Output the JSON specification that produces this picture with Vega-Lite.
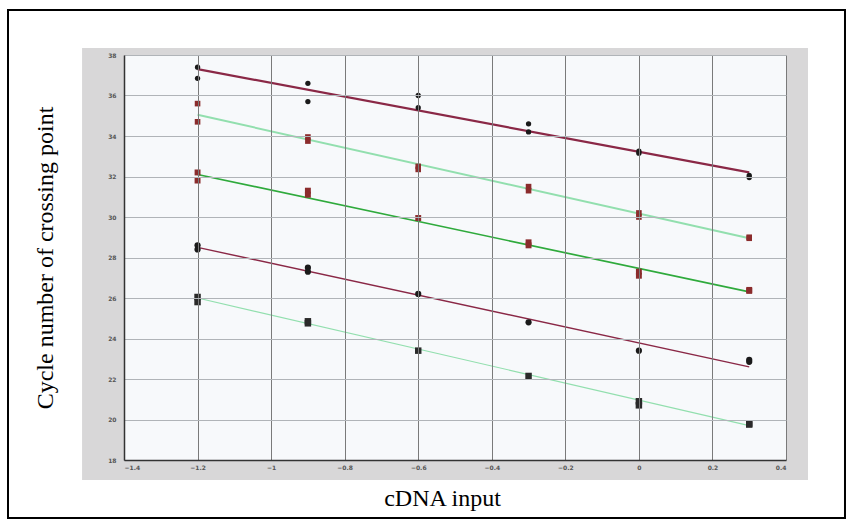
{
  "$schema": "https://vega.github.io/schema/vega-lite/v6.json",
  "width": 662,
  "height": 405,
  "autosize": {"type": "none"},
  "padding": {"left": 124, "top": 55, "right": 68, "bottom": 66},
  "background": "white",
  "config": {
    "view": {"stroke": null},
    "axis": {
      "labelFont": "DejaVu Sans",
      "labelFontSize": 6,
      "labelFontWeight": "bold",
      "labelColor": "#555555",
      "ticks": false,
      "domainColor": "#333333",
      "domainWidth": 1.5,
      "titleFont": "Liberation Serif",
      "titleFontSize": 24,
      "titleFontWeight": "normal",
      "titleColor": "#000000",
      "grid": true
    },
    "axisX": {"gridColor": "#7a7a7a", "gridWidth": 1, "labelPadding": 4, "titlePadding": 16},
    "axisY": {"gridColor": "#b0b4b8", "gridWidth": 1, "labelPadding": 8, "titlePadding": 50}
  },
  "datasets": {
    "points": [
      {"x": -1.2, "ct": 37.4, "series": "S1"}, {"x": -1.2, "ct": 36.85, "series": "S1"},
      {"x": -0.9, "ct": 36.6, "series": "S1"}, {"x": -0.9, "ct": 35.7, "series": "S1"},
      {"x": -0.6, "ct": 36.0, "series": "S1"}, {"x": -0.6, "ct": 35.4, "series": "S1"},
      {"x": -0.3, "ct": 34.6, "series": "S1"}, {"x": -0.3, "ct": 34.2, "series": "S1"},
      {"x": 0, "ct": 33.25, "series": "S1"}, {"x": 0, "ct": 33.15, "series": "S1"},
      {"x": 0.3, "ct": 32.05, "series": "S1"}, {"x": 0.3, "ct": 31.95, "series": "S1"},
      {"x": -1.2, "ct": 35.6, "series": "S2"}, {"x": -1.2, "ct": 34.7, "series": "S2"},
      {"x": -0.9, "ct": 33.95, "series": "S2"}, {"x": -0.9, "ct": 33.75, "series": "S2"},
      {"x": -0.6, "ct": 32.5, "series": "S2"}, {"x": -0.6, "ct": 32.35, "series": "S2"},
      {"x": -0.3, "ct": 31.5, "series": "S2"}, {"x": -0.3, "ct": 31.3, "series": "S2"},
      {"x": 0, "ct": 30.2, "series": "S2"}, {"x": 0, "ct": 30.0, "series": "S2"},
      {"x": 0.3, "ct": 29.0, "series": "S2"}, {"x": 0.3, "ct": 28.95, "series": "S2"},
      {"x": -1.2, "ct": 32.2, "series": "S3"}, {"x": -1.2, "ct": 31.8, "series": "S3"},
      {"x": -0.9, "ct": 31.3, "series": "S3"}, {"x": -0.9, "ct": 31.1, "series": "S3"},
      {"x": -0.6, "ct": 29.95, "series": "S3"},
      {"x": -0.3, "ct": 28.75, "series": "S3"}, {"x": -0.3, "ct": 28.6, "series": "S3"},
      {"x": 0, "ct": 27.3, "series": "S3"}, {"x": 0, "ct": 27.1, "series": "S3"},
      {"x": 0.3, "ct": 26.4, "series": "S3"}, {"x": 0.3, "ct": 26.35, "series": "S3"},
      {"x": -1.2, "ct": 28.6, "series": "S4"}, {"x": -1.2, "ct": 28.4, "series": "S4"},
      {"x": -0.9, "ct": 27.5, "series": "S4"}, {"x": -0.9, "ct": 27.3, "series": "S4"},
      {"x": -0.6, "ct": 26.2, "series": "S4"},
      {"x": -0.3, "ct": 24.8, "series": "S4"},
      {"x": 0, "ct": 23.4, "series": "S4"},
      {"x": 0.3, "ct": 22.95, "series": "S4"}, {"x": 0.3, "ct": 22.85, "series": "S4"},
      {"x": -1.2, "ct": 26.05, "series": "S5"}, {"x": -1.2, "ct": 25.8, "series": "S5"},
      {"x": -0.9, "ct": 24.85, "series": "S5"}, {"x": -0.9, "ct": 24.75, "series": "S5"},
      {"x": -0.6, "ct": 23.4, "series": "S5"},
      {"x": -0.3, "ct": 22.15, "series": "S5"},
      {"x": 0, "ct": 20.9, "series": "S5"}, {"x": 0, "ct": 20.7, "series": "S5"},
      {"x": 0.3, "ct": 19.8, "series": "S5"}, {"x": 0.3, "ct": 19.75, "series": "S5"}
    ],
    "lines": [
      {"x": -1.2, "ct": 37.3, "line": "L1"}, {"x": 0.3, "ct": 32.2, "line": "L1"},
      {"x": -1.2, "ct": 35.05, "line": "L2"}, {"x": 0.3, "ct": 28.95, "line": "L2"},
      {"x": -1.2, "ct": 32.1, "line": "L3"}, {"x": 0.3, "ct": 26.3, "line": "L3"},
      {"x": -1.2, "ct": 28.5, "line": "L4"}, {"x": 0.3, "ct": 22.6, "line": "L4"},
      {"x": -1.2, "ct": 26.0, "line": "L5"}, {"x": 0.3, "ct": 19.7, "line": "L5"}
    ]
  },
  "data": {"values": [{}]},
  "layer": [
    {
      "mark": {"type": "rect", "fill": "white", "stroke": "black", "strokeWidth": 2},
      "encoding": {
        "x": {"datum": -1.7154, "type": "quantitative", "scale": {"domain": [-1.4, 0.4], "nice": false, "zero": false}},
        "x2": {"datum": 0.5604},
        "y": {"datum": 40.222, "type": "quantitative", "scale": {"domain": [18, 38], "nice": false, "zero": false}},
        "y2": {"datum": 15.136}
      }
    },
    {
      "mark": {"type": "rect", "fill": "#d8d7d8"},
      "encoding": {
        "x": {"datum": -1.514, "type": "quantitative", "scale": {"domain": [-1.4, 0.4], "nice": false, "zero": false}},
        "x2": {"datum": 0.4598},
        "y": {"datum": 38.346, "type": "quantitative", "scale": {"domain": [18, 38], "nice": false, "zero": false}},
        "y2": {"datum": 17.012}
      }
    },
    {
      "mark": {"type": "rect", "fill": "#f7f9fb"},
      "encoding": {
        "x": {"datum": -1.4, "type": "quantitative", "scale": {"domain": [-1.4, 0.4], "nice": false, "zero": false}},
        "x2": {"datum": 0.4},
        "y": {"datum": 38, "type": "quantitative", "scale": {"domain": [18, 38], "nice": false, "zero": false}},
        "y2": {"datum": 18}
      }
    },
    {
      "data": {"name": "lines"},
      "mark": {"type": "line"},
      "encoding": {
        "x": {"field": "x", "type": "quantitative", "scale": {"domain": [-1.4, 0.4], "nice": false, "zero": false},
              "axis": {"title": "cDNA input", "zindex": 1, "format": "~g", "titleX": 318, "titleAnchor": "middle",
                       "values": [-1.4, -1.2, -1, -0.8, -0.6, -0.4, -0.2, 0, 0.2, 0.4]}},
        "y": {"field": "ct", "type": "quantitative", "scale": {"domain": [18, 38], "nice": false, "zero": false},
              "axis": {"title": "Cycle number of crossing point", "zindex": 1, "values": [18, 20, 22, 24, 26, 28, 30, 32, 34, 36, 38]}},
        "detail": {"field": "line"},
        "color": {"field": "line", "type": "nominal", "legend": null,
                  "scale": {"domain": ["L1", "L2", "L3", "L4", "L5"], "range": ["#8a2846", "#92dfae", "#2faa3c", "#8a2846", "#92dfae"]}},
        "strokeWidth": {"field": "line", "type": "nominal", "legend": null,
                  "scale": {"domain": ["L1", "L2", "L3", "L4", "L5"], "range": [2.2, 1.2, 2, 2, 1.2]}}
      }
    },
    {
      "data": {"name": "points"},
      "mark": {"type": "point", "filled": true, "opacity": 1},
      "encoding": {
        "x": {"field": "x", "type": "quantitative", "scale": {"domain": [-1.4, 0.4], "nice": false, "zero": false}},
        "y": {"field": "ct", "type": "quantitative", "scale": {"domain": [18, 38], "nice": false, "zero": false}},
        "shape": {"field": "series", "type": "nominal", "legend": null,
                  "scale": {"domain": ["S1", "S2", "S3", "S4", "S5"], "range": ["circle", "square", "square", "circle", "square"]}},
        "fill": {"field": "series", "type": "nominal", "legend": null,
                  "scale": {"domain": ["S1", "S2", "S3", "S4", "S5"], "range": ["#1a1a1a", "#8b2c2c", "#8b2c2c", "#1a1a1a", "#2a2a2a"]}},
        "size": {"field": "series", "type": "nominal", "legend": null,
                  "scale": {"domain": ["S1", "S2", "S3", "S4", "S5"], "range": [28, 42, 42, 28, 32]}}
      }
    }
  ]
}
